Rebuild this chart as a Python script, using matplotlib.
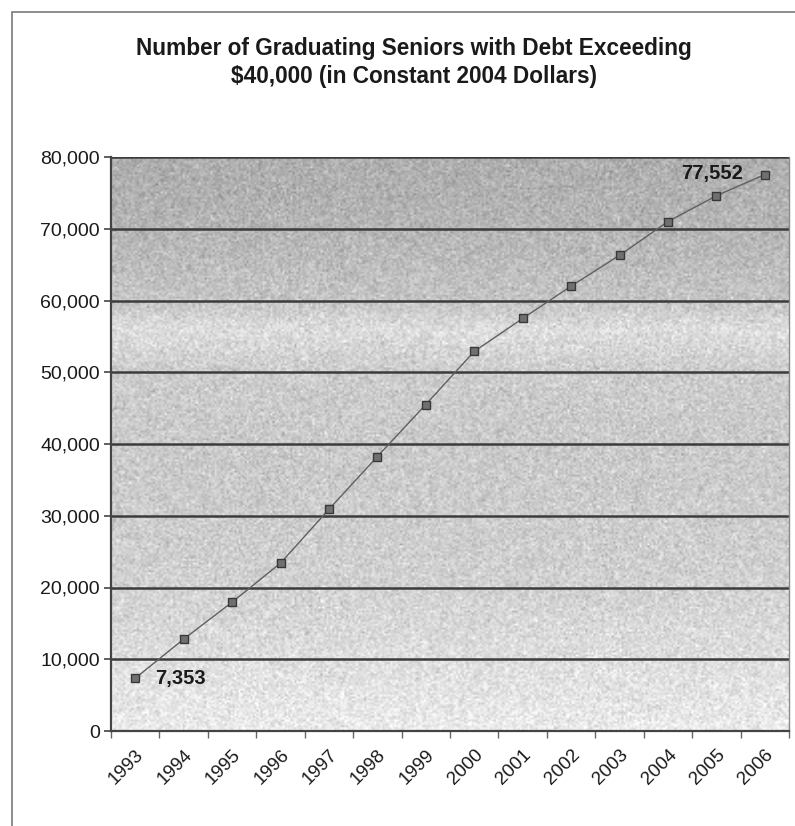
import numpy as np
import matplotlib
matplotlib.use("Agg")
import matplotlib.pyplot as plt
from matplotlib.patches import Rectangle

plt.rcParams['font.family'] = ['Liberation Sans', 'DejaVu Sans']

years = ['1993', '1994', '1995', '1996', '1997', '1998', '1999',
         '2000', '2001', '2002', '2003', '2004', '2005', '2006']
seniors = [7353, 12800, 17950, 23400, 30900, 38250, 45500,
           52900, 57500, 62000, 66300, 71000, 74600, 77552]
yticks = [0, 10000, 20000, 30000, 40000, 50000, 60000, 70000, 80000]

W, H = 795, 826
fig = plt.figure(figsize=(W / 100, H / 100), dpi=100)
fig.patch.set_facecolor('white')

# outer chart frame (only left/top edges fall inside the page)
fig.patches.append(Rectangle((12 / W, -0.05), 1.2, 1 - 12 / H + 0.05,
                             transform=fig.transFigure, fill=False,
                             edgecolor='#7a7a7a', linewidth=1.2))

ax = fig.add_axes([111 / W, 1 - 731 / H, (789 - 111) / W, (731 - 157) / H])
x = np.arange(len(years))

# grey plot-area fill, darker at the top, with a light scanned grain
stops_y = [0, 10000, 20000, 30000, 40000, 50000, 56000, 60000, 70000, 80000]
stops_v = [0.92, 0.87, 0.82, 0.80, 0.79, 0.80, 0.87, 0.77, 0.71, 0.68]
yy = np.linspace(0, 80000, 300)
shade = np.interp(yy, stops_y, stops_v)
grain = np.random.default_rng(3).normal(0, 0.05, (300, 340))
bg = np.clip(shade[:, None] + grain, 0, 1)
ax.imshow(bg, cmap='gray', vmin=0, vmax=1, origin='lower', aspect='auto',
          extent=(-0.5, len(years) - 0.5, 0, 80000), interpolation='bilinear',
          zorder=0)

for v in yticks[1:]:
    ax.axhline(v, color='#3c3c3c', linewidth=1.8, zorder=1)

ax.plot(x, seniors, color='#606060', linewidth=1.0, zorder=2)
ax.plot(x, seniors, linestyle='none', marker='s', markersize=6,
        markerfacecolor='#707070', markeredgecolor='#383838',
        markeredgewidth=1.0, zorder=3)

ax.annotate(f'{seniors[0]:,}', (x[0], seniors[0]), xytext=(20, 0),
            textcoords='offset pixels', ha='left', va='center',
            fontsize=14.5, fontweight='bold', color='#1a1a1a')
ax.annotate(f'{seniors[-1]:,}', (x[-1], seniors[-1]), xytext=(-22, 1),
            textcoords='offset pixels', ha='right', va='center',
            fontsize=14.5, fontweight='bold', color='#1a1a1a')

ax.set_xlim(-0.5, len(years) - 0.5)
ax.set_ylim(0, 80000)
ax.set_yticks(yticks)
ax.set_yticklabels([f'{v:,}' for v in yticks], fontsize=14, color='#1a1a1a')
ax.tick_params(axis='y', length=5, width=1.2, color='#444444', pad=3)

ax.set_xticks(x)
ax.set_xticklabels(years, rotation=45, ha='right', rotation_mode='anchor',
                   fontsize=13.5, color='#1a1a1a')
ax.set_xticks(np.arange(-0.5, len(years)), minor=True)
ax.tick_params(axis='x', which='major', length=0, pad=11)
ax.tick_params(axis='x', which='minor', length=5, width=1.0, color='#666666')

for side in ['left', 'bottom']:
    ax.spines[side].set_color('#444444')
    ax.spines[side].set_linewidth(1.6)
ax.spines['right'].set_color('#8a8a8a')
ax.spines['right'].set_linewidth(1.0)
ax.spines['top'].set_visible(False)

fig.text(414 / W, 1 - 48 / H,
         'Number of Graduating Seniors with Debt Exceeding',
         ha='center', va='center', fontsize=16.3, fontweight='bold',
         color='#1a1a1a')
fig.text(414 / W, 1 - 77 / H,
         r'\$40,000 (in Constant 2004 Dollars)',
         ha='center', va='center', fontsize=16.3, fontweight='bold',
         color='#1a1a1a')

fig.savefig('out.png', dpi=100)
